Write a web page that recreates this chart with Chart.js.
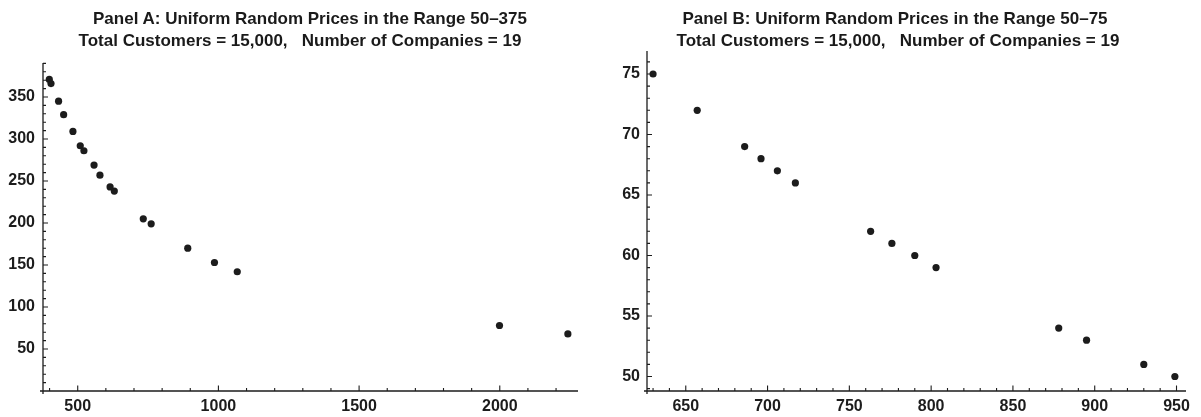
<!DOCTYPE html>
<html>
<head>
<meta charset="utf-8">
<script src="https://cdn.jsdelivr.net/npm/chart.js@4/dist/chart.umd.min.js"></script>
<style>
  html, body { margin: 0; padding: 0; background: #fff; }
  #wrap { position: relative; width: 1201px; height: 417px; overflow: hidden; font-family: "Liberation Sans", Arial, sans-serif; }
  .cv { position: absolute; top: 0; }
  .ttl { position: absolute; white-space: pre; font-weight: bold; font-size: 17px; color: #1a1a1a; transform: translateX(-50%); line-height: 17px; }
</style>
</head>
<body>
<div id="wrap">
  <div class="cv" style="left:0;width:600px;height:417px;"><canvas id="cA" width="600" height="417"></canvas></div>
  <div class="cv" style="left:600px;width:601px;height:417px;"><canvas id="cB" width="601" height="417"></canvas></div>
  <div class="ttl" id="tA1" style="left:310px;top:10px;"></div>
  <div class="ttl" id="tA2" style="left:300px;top:32px;"></div>
  <div class="ttl" id="tB1" style="left:895px;top:10px;"></div>
  <div class="ttl" id="tB2" style="left:898px;top:32px;"></div>
</div>
<script>
// ---------- Data ----------
const titleA1 = "Panel A: Uniform Random Prices in the Range 50\u2013375";
const titleA2 = "Total Customers = 15,000,   Number of Companies = 19";
const titleB1 = "Panel B: Uniform Random Prices in the Range 50\u201375";
const titleB2 = "Total Customers = 15,000,   Number of Companies = 19";

// Panel A: customers (x) and prices (y)
const customersA = [399, 405, 432, 450, 483, 509, 522, 558, 579, 615, 630, 733, 761, 891, 986, 1067, 1999, 2242];
const pricesA    = [371, 366, 345, 329, 309, 292, 286, 269, 257, 243, 238, 205, 199, 170, 153, 142, 78, 68];
const xTicksA = [500, 1000, 1500, 2000];
const yTicksA = [50, 100, 150, 200, 250, 300, 350];

// Panel B
const customersB = [630, 657, 686, 696, 706, 717, 763, 776, 790, 803, 878, 895, 930, 949];
const pricesB    = [75, 72, 69, 68, 67, 66, 62, 61, 60, 59, 54, 53, 51, 50];
const xTicksB = [650, 700, 750, 800, 850, 900, 950];
const yTicksB = [50, 55, 60, 65, 70, 75];

document.getElementById('tA1').textContent = titleA1;
document.getElementById('tA2').textContent = titleA2;
document.getElementById('tB1').textContent = titleB1;
document.getElementById('tB2').textContent = titleB2;

const INK = '#1c1c1c';
const FONT = { family: '"Liberation Sans", Arial, sans-serif', size: 16, weight: 'bold' };

// Draw Mathematica-style axes with inward major/minor ticks
const axesPlugin = {
  id: 'mmaAxes',
  afterDatasetsDraw(chart, args, opts) {
    const ctx = chart.ctx;
    const xs = chart.scales.x, ys = chart.scales.y;
    const ca = chart.chartArea;
    ctx.save();
    ctx.strokeStyle = INK;
    ctx.lineWidth = 1.3;
    ctx.beginPath();
    ctx.moveTo(ca.left - 3, ca.bottom); ctx.lineTo(ca.right, ca.bottom);
    ctx.moveTo(ca.left, ca.top); ctx.lineTo(ca.left, ca.bottom + 3);
    ctx.stroke();
    ctx.lineWidth = 1.1;
    ctx.beginPath();
    const eps = 1e-9;
    for (let v = Math.ceil(xs.min / opts.xMinor) * opts.xMinor; v <= xs.max + eps; v += opts.xMinor) {
      const px = xs.getPixelForValue(v);
      if (px < ca.left + 1) continue;
      const major = Math.abs(v / opts.xMajor - Math.round(v / opts.xMajor)) < 1e-6;
      const len = major ? 5.5 : 3;
      ctx.moveTo(px, ca.bottom); ctx.lineTo(px, ca.bottom - len);
    }
    for (let v = Math.ceil(ys.min / opts.yMinor) * opts.yMinor; v <= ys.max + eps; v += opts.yMinor) {
      const py = ys.getPixelForValue(v);
      if (py > ca.bottom - 1) continue;
      const major = Math.abs(v / opts.yMajor - Math.round(v / opts.yMajor)) < 1e-6;
      const len = major ? 5 : 3;
      ctx.moveTo(ca.left, py); ctx.lineTo(ca.left + len, py);
    }
    ctx.stroke();
    ctx.restore();
  }
};

function makeChart(id, xs, ys, xTicks, yTicks, lim, layout, tick) {
  const pts = xs.map((x, i) => ({ x: x, y: ys[i] }));
  return new Chart(document.getElementById(id), {
    type: 'scatter',
    data: { datasets: [{ data: pts, backgroundColor: INK, borderColor: INK, pointRadius: 3.6, pointHoverRadius: 3.6, borderWidth: 0 }] },
    plugins: [axesPlugin],
    options: {
      responsive: false,
      animation: false,
      events: [],
      layout: { padding: { left: 0, right: layout.right, top: layout.top, bottom: 0 } },
      plugins: {
        legend: { display: false },
        tooltip: { enabled: false },
        title: { display: false },
        mmaAxes: tick
      },
      scales: {
        x: {
          type: 'linear', min: lim.xmin, max: lim.xmax,
          grid: { display: false, drawTicks: false },
          border: { display: false },
          ticks: { color: INK, font: FONT, padding: layout.xpad, maxRotation: 0, autoSkip: false, callback: v => String(v) },
          afterBuildTicks: s => { s.ticks = xTicks.map(v => ({ value: v })); },
          afterFit: s => { s.height = 417 - layout.bottom; }
        },
        y: {
          type: 'linear', min: lim.ymin, max: lim.ymax,
          grid: { display: false, drawTicks: false },
          border: { display: false },
          ticks: { color: INK, font: FONT, padding: layout.ypad, autoSkip: false, callback: v => String(v) },
          afterBuildTicks: s => { s.ticks = yTicks.map(v => ({ value: v })); },
          afterFit: s => { s.width = layout.left; }
        }
      }
    }
  });
}

makeChart('cA', customersA, pricesA, xTicksA, yTicksA,
  { xmin: 376.6, xmax: 2278, ymin: 0, ymax: 390.5 },
  { left: 43, right: 22, top: 63, bottom: 391, xpad: 6, ypad: 8 },
  { xMinor: 100, xMajor: 500, yMinor: 10, yMajor: 50 });

makeChart('cB', customersB, pricesB, xTicksB, yTicksB,
  { xmin: 626.3, xmax: 955.8, ymin: 48.8, ymax: 76.9 },
  { left: 47, right: 15, top: 51, bottom: 391, xpad: 6, ypad: 7 },
  { xMinor: 10, xMajor: 50, yMinor: 1, yMajor: 5 });
</script>
</body>
</html>
